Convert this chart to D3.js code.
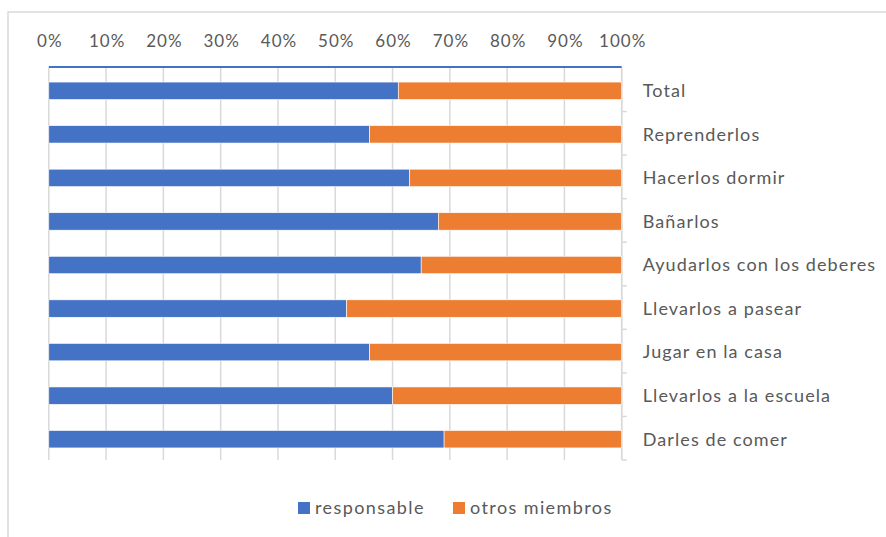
<!DOCTYPE html>
<meta charset="utf-8">
<html>
<head>
<style>
  body { margin: 0; background: #fff; }
  svg text { font-family: Lato, "Open Sans", sans-serif; fill: #595959; }
</style>
</head>
<script src="https://d3js.org/d3.v7.min.js"></script>
<body>
<div id="vis"></div>
<script>
  // data (percent)
  var categories = ["Total", "Reprenderlos", "Hacerlos dormir", "Bañarlos",
    "Ayudarlos con los deberes", "Llevarlos a pasear", "Jugar en la casa",
    "Llevarlos a la escuela", "Darles de comer"];
  var responsable = [61, 56, 63, 68, 65, 52, 56, 60, 69];
  var otros = [39, 44, 37, 32, 35, 48, 44, 40, 31];
  var seriesNames = ["responsable", "otros miembros"];
  var tickValues = [0, 10, 20, 30, 40, 50, 60, 70, 80, 90, 100];

  var colors = ["#4472C4", "#ED7D31"];

  var W = 886, H = 537;
  var plot = {left: 48.8, right: 621.7, top: 68, bottom: 460};

  var svg = d3.select("#vis").append("svg")
    .attr("width", W)
    .attr("height", H);

  // chart area border (runs off the right and bottom of the picture)
  svg.append("rect")
    .attr("x", 8).attr("y", 12)
    .attr("width", W + 20).attr("height", H + 20)
    .style("fill", "none")
    .style("stroke", "#d9d9d9")
    .style("stroke-width", 1.5);

  var x = d3.scaleLinear().domain([0, 100]).range([plot.left, plot.right]);
  var y = d3.scaleBand().domain(categories).range([plot.top, plot.bottom]).padding(0);

  // gridlines
  svg.append("g")
    .selectAll("line")
    .data(tickValues)
    .enter().append("line")
    .attr("x1", function(d) { return x(d); })
    .attr("x2", function(d) { return x(d); })
    .attr("y1", plot.top)
    .attr("y2", plot.bottom)
    .style("stroke", "#d9d9d9")
    .style("stroke-width", 1.5);

  // top axis labels
  var xAxis = svg.append("g")
    .attr("transform", "translate(0," + 47 + ")")
    .call(d3.axisTop(x).tickValues(tickValues).tickSize(0).tickPadding(0)
      .tickFormat(function(d) { return d + "%"; }));
  xAxis.select(".domain").remove();
  xAxis.selectAll("text")
    .attr("dy", 0)
    .attr("dx", "0.5px")
    .style("font-size", "17px")
    .style("letter-spacing", "1px")
    .style("fill", "#595959");

  // blue line along the top of the plot
  svg.append("line")
    .attr("x1", x(0)).attr("x2", x(100))
    .attr("y1", plot.top - 1).attr("y2", plot.top - 1)
    .style("stroke", colors[0])
    .style("stroke-width", 2);

  // category axis on the right
  var yAxis = svg.append("g")
    .attr("transform", "translate(" + x(100) + ",0)");
  yAxis.append("line")
    .attr("x1", 0).attr("x2", 0)
    .attr("y1", plot.top).attr("y2", plot.bottom)
    .style("stroke", "#d9d9d9").style("stroke-width", 1.5);
  var bounds = categories.map(function(c) { return y(c); }).concat([plot.bottom]);
  yAxis.selectAll(".tk")
    .data(bounds.slice(1))
    .enter().append("line")
    .attr("class", "tk")
    .attr("x1", 0).attr("x2", 5)
    .attr("y1", function(d) { return d; })
    .attr("y2", function(d) { return d; })
    .style("stroke", "#d9d9d9").style("stroke-width", 1.5);
  yAxis.selectAll(".lbl")
    .data(categories)
    .enter().append("text")
    .attr("class", "lbl")
    .attr("x", 21)
    .attr("y", function(d) { return y(d) + y.bandwidth() / 2 + 1; })
    .attr("dy", "0.35em")
    .style("font-size", "18px")
    .style("letter-spacing", "1.1px")
    .text(function(d) { return d; });

  // stacked bars
  var rows = categories.map(function(c, i) {
    return {cat: c, r: responsable[i], o: otros[i]};
  });
  var stack = d3.stack().keys(["r", "o"]);
  var layers = stack(rows);
  var barH = y.bandwidth() * 0.4;

  svg.append("g")
    .selectAll("g")
    .data(layers)
    .enter().append("g")
    .style("fill", function(d, i) { return colors[i]; })
    .selectAll("rect")
    .data(function(d) { return d; })
    .enter().append("rect")
    .attr("x", function(d) { return x(d[0]); })
    .attr("width", function(d) { return x(d[1]) - x(d[0]); })
    .attr("y", function(d) { return y(d.data.cat) + (y.bandwidth() - barH) / 2 + 1; })
    .attr("height", barH)
    .style("stroke", "#fff")
    .style("stroke-width", 0.6);

  // legend
  var legend = svg.append("g").attr("transform", "translate(298,508)");
  var legX = [0, 155];
  seriesNames.forEach(function(name, i) {
    legend.append("rect")
      .attr("x", legX[i]).attr("y", -6)
      .attr("width", 12).attr("height", 12)
      .style("fill", colors[i]);
    legend.append("text")
      .attr("x", legX[i] + 17)
      .attr("y", 0)
      .attr("dy", "0.35em")
      .style("font-size", "18px")
      .style("letter-spacing", "1.4px")
      .text(name);
  });
</script>
</body>
</html>
